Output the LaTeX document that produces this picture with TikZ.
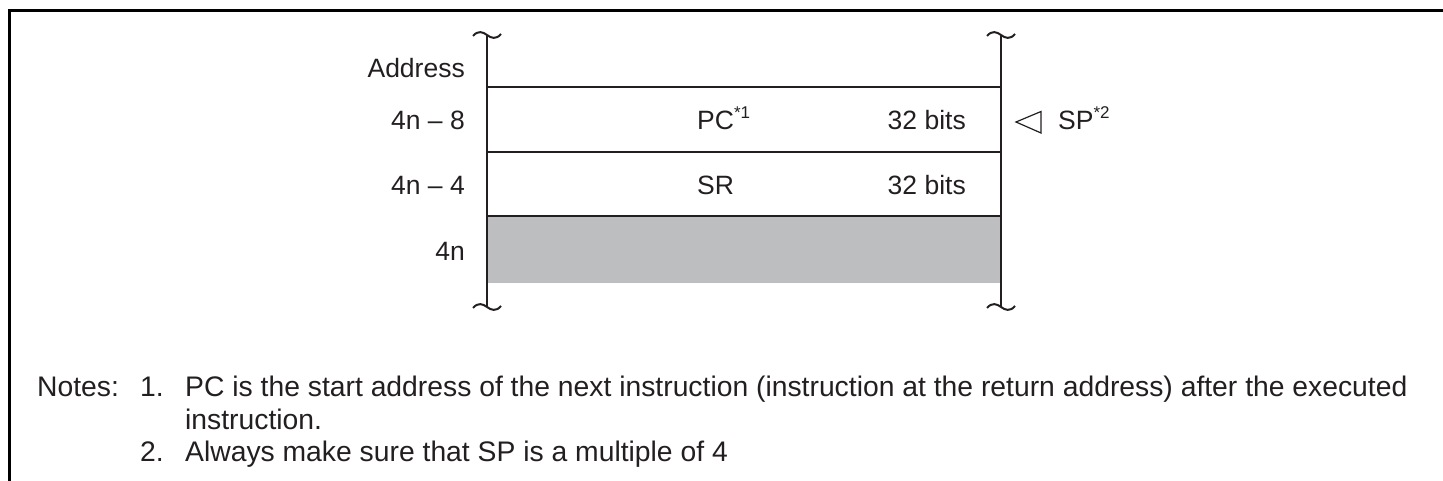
\documentclass[tikz,border=0pt]{standalone}
\usepackage{fontspec}
\setmainfont{Liberation Sans}
\definecolor{ink}{HTML}{231F20}
\definecolor{cellgrey}{HTML}{BCBEC0}
\newcommand\supnote[1]{\raisebox{11pt}{\fontsize{17}{19}\selectfont #1}}
\tikzset{
  txt/.style={font=\fontsize{26.5}{31}\selectfont, text=ink, inner sep=0pt},
  note/.style={font=\fontsize{28.3}{33}\selectfont, text=ink, inner sep=0pt, anchor=base west},
  cell/.style={draw=ink, line width=2.4pt},
  brk/.pic={\draw[ink, line width=2pt] (-14,1) .. controls (-9,-5) and (-4,-3) .. (0,0) .. controls (4,3) and (9,5) .. (14,-1);}
}
\begin{document}
\begin{tikzpicture}[x=1pt,y=-1pt]
  \useasboundingbox (0,0) rectangle (1443,481);
  % frame
  \draw[line width=3pt] (9.5,481) -- (9.5,10.5) -- (1443,10.5);
  % stack
  \fill[cellgrey] (487,216) rectangle (1001,283);
  \draw[cell] (487,35) -- (487,307);
  \draw[cell] (1001,35) -- (1001,307);
  \foreach \y in {87,152,216} \draw[cell] (487,\y) -- (1001,\y);
  \foreach \x/\y in {487/35,1001/35,487/307,1001/307} \pic at (\x,\y) {brk};
  % addresses
  \node[txt, anchor=base east] (addr) at (465,78) {Address};
  \node[txt, anchor=base east] (a8) at (465,130) {4n -- 8};
  \node[txt, anchor=base east] (a4) at (465,195) {4n -- 4};
  \node[txt, anchor=base east] (a0) at (465,261) {4n};
  % contents
  \node[txt, anchor=base west] (pc) at (697,130) {PC\supnote{*1}};
  \node[txt, anchor=base east] (pcbits) at (966,130) {32 bits};
  \node[txt, anchor=base west] (sr) at (697,195) {SR};
  \node[txt, anchor=base east] (srbits) at (966,195) {32 bits};
  % stack pointer
  \draw[ink, line width=1.2pt, line join=miter] (1041,111.5) -- (1041,133) -- (1016,122) -- cycle;
  \node[txt, anchor=base west] (sp) at (1058,130) {SP\supnote{*2}};
  % notes
  \node[note] (notes) at (37,396) {Notes:};
  \node[note] (n1) at (140,396) {1.};
  \node[note] (t1) at (185,396) {PC is the start address of the next instruction (instruction at the return address) after the executed};
  \node[note] (t1b) at (185,429) {instruction.};
  \node[note] (n2) at (140,461) {2.};
  \node[note] (t2) at (185,461) {Always make sure that SP is a multiple of 4};
\end{tikzpicture}
\end{document}
